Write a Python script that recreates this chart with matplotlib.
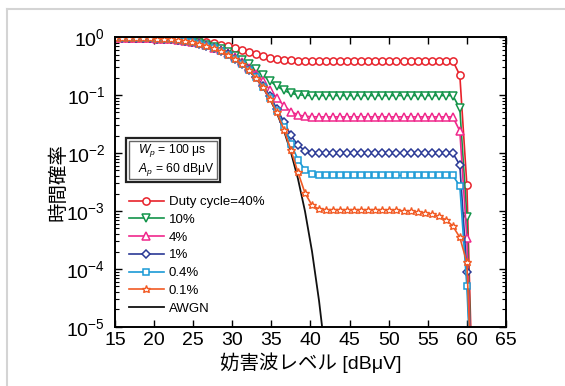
import numpy as np
import matplotlib
matplotlib.use("Agg")
from matplotlib import pyplot as plt
from matplotlib.patches import Rectangle
from matplotlib.lines import Line2D
from matplotlib.ticker import LogLocator, NullFormatter

plt.rcParams['font.family'] = ['Liberation Sans', 'Noto Sans CJK JP']
plt.rcParams['mathtext.fontset'] = 'custom'
plt.rcParams['mathtext.rm'] = 'Liberation Sans'
plt.rcParams['mathtext.it'] = 'Liberation Sans:italic'

# interference level [dBuV]
x = [15.0, 15.9, 16.8, 17.7, 18.6, 19.5, 20.4, 21.3, 22.2, 23.1,
     24.0, 24.9, 25.8, 26.7, 27.6, 28.5, 29.4, 30.3, 31.2, 32.1,
     33.0, 33.9, 34.8, 35.7, 36.6, 37.5, 38.4, 39.3, 40.2, 41.1,
     42.0, 42.9, 43.8, 44.7, 45.6, 46.5, 47.4, 48.3, 49.2, 50.1,
     51.0, 51.9, 52.8, 53.7, 54.6, 55.5, 56.4, 57.3, 58.2, 59.1,
     60.0, 60.9]

d40 = [.988, .985, .982, .979, .976, .970, .963, .957, .945, .933,
       .915, .890, .860, .823, .783, .741, .695, .646, .597, .552,
       .511, .473, .442, .420, .405, .396, .392, .39, .39, .39,
       .39, .39, .39, .39, .39, .39, .39, .39, .39, .39,
       .39, .39, .39, .39, .39, .39, .39, .39, .39, .22,
       .0028, 1e-7]
d10 = [.982, .977, .973, .968, .964, .955, .946, .937, .919, .901,
       .874, .838, .793, .738, .680, .617, .549, .477, .405, .338,
       .277, .221, .176, .142, .120, .107, .101, .099, .098, .098,
       .098, .098, .098, .098, .098, .098, .098, .098, .098, .098,
       .098, .098, .098, .098, .098, .098, .098, .098, .098, .059,
       8e-4, 1e-7]
d4 = [.981, .976, .971, .967, .962, .952, .943, .933, .914, .895,
      .866, .828, .780, .722, .660, .593, .521, .444, .368, .297,
      .232, .172, .124, .089, .0654, .0519, .0454, .0429, .0422, .042,
      .042, .042, .042, .042, .042, .042, .042, .042, .042, .042,
      .042, .042, .042, .042, .042, .042, .042, .042, .042, .024,
      3.4e-4, 1e-7]
d1 = [.980, .975, .970, .965, .960, .951, .941, .931, .911, .891,
      .861, .822, .772, .713, .649, .579, .505, .426, .347, .273,
      .206, .145, .095, .0585, .0342, .0202, .0136, .0110, .0102, .0100,
      .0100, .0100, .0100, .0100, .0100, .0100, .0100, .0100, .0100, .0100,
      .0100, .0100, .0100, .0100, .0100, .0100, .0100, .0100, .0100, .0062,
      9e-5, 1e-7]
d04 = [.98, .975, .97, .965, .96, .95, .94, .93, .91, .89,
       .86, .82, .77, .71, .645, .575, .50, .42, .34, .27,
       .202, .140, .090, .0531, .0285, .0144, .0077, .0051, .0043, .0041,
       .0041, .0041, .0041, .0041, .0041, .0041, .0041, .0041, .0041, .0041,
       .0041, .0041, .0041, .0041, .0041, .0041, .0041, .0041, .0041, .0027,
       5e-5, 1e-7]
d01 = [.98, .975, .97, .965, .96, .95, .94, .93, .91, .89,
       .86, .82, .77, .71, .645, .575, .50, .42, .34, .267,
       .199, .137, .087, .0500, .0254, .0113, .00465, .00204, .00125, .00108,
       .00105, .00105, .00105, .00105, .00105, .00105, .00105, .00105, .00105, .00103,
       .00102, .00100, .00098, .00096, .00093, .00088, .00081, .00071, .00055, .00035,
       .00013, 1e-7]
awgn = [.98, .975, .97, .965, .96, .95, .94, .93, .91, .89,
        .86, .82, .77, .71, .645, .575, .50, .42, .34, .266,
        .198, .136, .086, .049, .0244, .0103, .0036, .00099, .0002, 2.8e-5,
        2.6e-6]

labels = ['Duty cycle=40%', '10%', '4%', '1%', '0.4%', '0.1%', 'AWGN']

fig = plt.figure(figsize=(5.65, 3.86), dpi=100)
ax = fig.add_axes([0.2035, 0.153, 0.692, 0.751])

hk, = ax.plot(x[:len(awgn)], awgn, '-', color='#111111', lw=1.3)
hr, = ax.plot(x, d40, '-o', color='#e8222b', mfc='white', ms=5.2, mew=1.1, lw=1.2)
hg, = ax.plot(x, d10, '-v', color='#13944a', mfc='white', ms=5.7, mew=1.1, lw=1.2)
hp, = ax.plot(x, d4, '-^', color='#f0288c', mfc='white', ms=5.7, mew=1.1, lw=1.2)
hb, = ax.plot(x, d1, '-D', color='#2b3a96', mfc='white', ms=4.4, mew=1.1, lw=1.2)
hc, = ax.plot(x, d04, '-s', color='#1a9ad6', mfc='white', ms=5, mew=1.1, lw=1.2)
ho, = ax.plot(x, d01, '-*', color='#f15a24', mfc='white', ms=6.2, mew=1, lw=1.2)

ax.set_yscale('log')
ax.set_xlim(15, 65)
ax.set_ylim(1e-5, 1)
ax.set_xticks(np.arange(15, 66, 5))
ax.yaxis.set_major_locator(LogLocator(base=10, numticks=10))
ax.yaxis.set_minor_locator(LogLocator(base=10, subs=np.arange(2, 10), numticks=10))
ax.yaxis.set_minor_formatter(NullFormatter())
ax.tick_params(which='both', direction='in', top=True, right=True, labelsize=14)
ax.tick_params(axis='y', which='major', pad=7)
ax.tick_params(axis='x', which='major', pad=4)
ax.tick_params(which='major', length=5, width=1)
ax.tick_params(which='minor', length=3, width=0.8)
for s in ax.spines.values():
    s.set_linewidth(1.4)

ax.set_xlabel('妨害波レベル [dBμV]', fontsize=14, labelpad=2)
ax.set_ylabel('時間確率', fontsize=14, labelpad=-1)

# parameter box
ax.add_patch(Rectangle((0.028, 0.50), 0.241, 0.152, transform=ax.transAxes,
                       fc='white', ec='#222222', lw=1.6, zorder=5))
ax.add_patch(Rectangle((0.035, 0.51), 0.227, 0.132, transform=ax.transAxes,
                       fc='none', ec='#666666', lw=1.0, zorder=6))
ax.text(0.058, 0.607, r'$W_p$ = 100 μs', transform=ax.transAxes,
        fontsize=8.7, va='center', zorder=7)
ax.text(0.058, 0.543, r'$A_p$ = 60 dBμV', transform=ax.transAxes,
        fontsize=8.7, va='center', zorder=7)

ax.legend([hr, hg, hp, hb, hc, ho, hk], labels, loc='upper left',
          bbox_to_anchor=(0.035, 0.452), frameon=False, fontsize=9.5,
          handlelength=2.7, handletextpad=0.35, labelspacing=0.42,
          borderpad=0, borderaxespad=0, numpoints=1)

# light page frame
fig.add_artist(Line2D([7 / 565, 1], [1 - 9 / 386, 1 - 9 / 386],
                      transform=fig.transFigure, color='#d4d4d4', lw=1.5))
fig.add_artist(Line2D([7 / 565, 7 / 565], [0, 1 - 9 / 386],
                      transform=fig.transFigure, color='#d4d4d4', lw=1.5))

fig.savefig('out.png', dpi=100)
